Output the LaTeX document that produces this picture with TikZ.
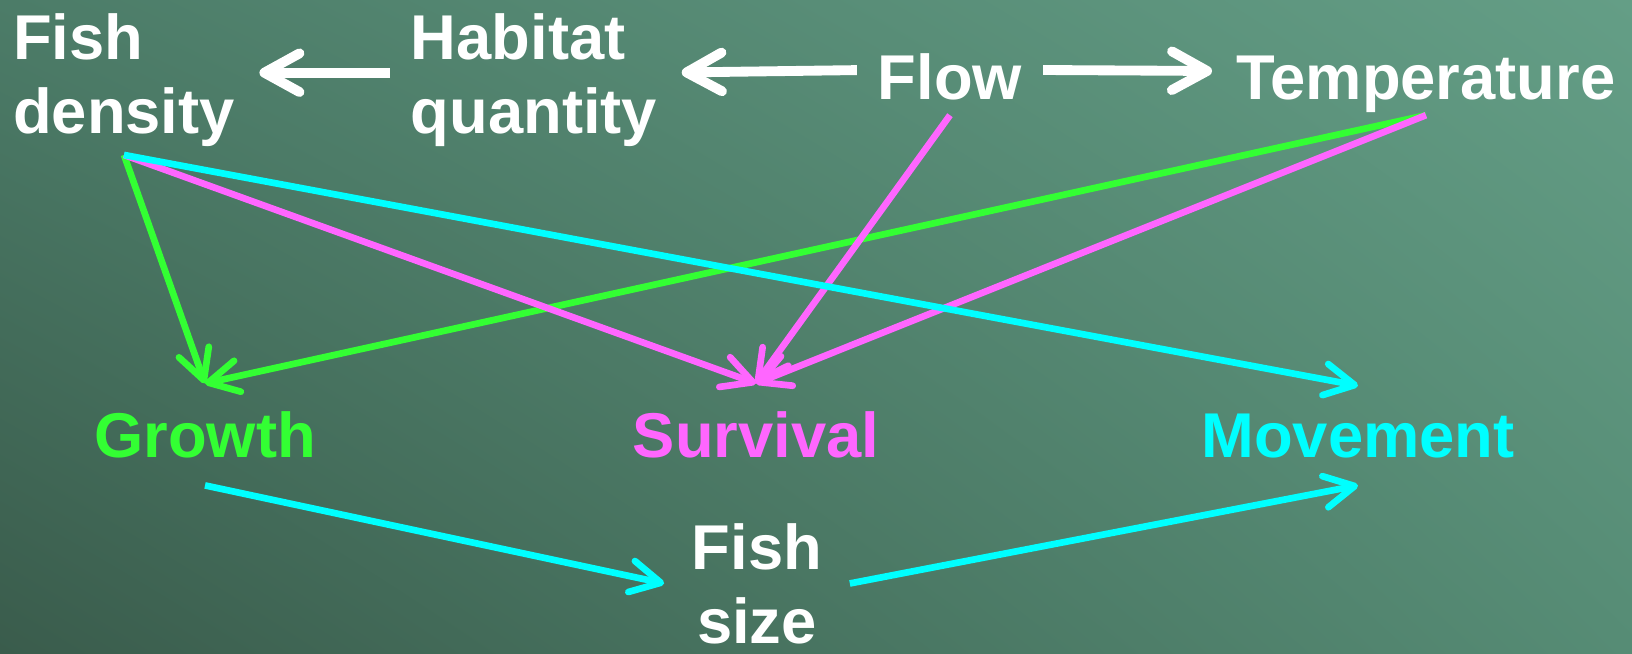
\documentclass[tikz,border=0pt]{standalone}
\usepackage{fontspec}
\setmainfont{Liberation Sans}
\usetikzlibrary{arrows.meta,shadings}
\definecolor{bgul}{RGB}{76,124,104}
\definecolor{bgur}{RGB}{100,158,134}
\definecolor{bgll}{RGB}{58,92,76}
\definecolor{bglr}{RGB}{86,140,117}
\definecolor{grn}{RGB}{51,255,51}
\definecolor{mag}{RGB}{255,102,255}
\definecolor{cyn}{RGB}{0,255,255}
\begin{document}
\begin{tikzpicture}[x={0.01cm},y={-0.01cm},
  lbl/.style={font=\fontsize{18}{21}\selectfont\bfseries,text=white,inner sep=2.3pt,anchor=base,align=left},
  toplbl/.style={lbl,text depth=0.21em},
  outlbl/.style={lbl,inner sep=7.7pt},
  wh/.style={white,line width=2.8pt,-{Straight Barb[length=10pt,width=11pt,round]},shorten <=3.5pt,shorten >=4.5pt},
  cl/.style={line width=1.9pt,-{Straight Barb[length=8.5pt,width=9pt,round]}}]
\shade[lower left=bgll,lower right=bglr,upper left=bgul,upper right=bgur](0,653)rectangle(1632,0);
\useasboundingbox(0,0)rectangle(1632,653);
\node[lbl](dens)at(124,133){Fish\\density};
\node[lbl](hab)at(534,133){Habitat\\quantity};
\node[toplbl](flow)at(950,99){Flow};
\node[toplbl](temp)at(1426,99){Temperature};
\node[outlbl,text=grn](grow)at(205,457){Growth};
\node[outlbl,text=mag](surv)at(756,457){Survival};
\node[outlbl,text=cyn](move)at(1358,457){Movement};
\node[outlbl,align=center](size)at(757,643){Fish\\size};
\draw[wh]([yshift=2pt]hab.west)--([yshift=2pt]dens.east);
\draw[wh]([yshift=2.8pt]flow.west)--([yshift=2pt]hab.east);
\draw[wh]([yshift=2.8pt]flow.east)--([yshift=2.8pt]temp.west);
\foreach \a/\b/\c in {dens/grow/grn,temp/grow/grn,dens/surv/mag,temp/surv/mag,flow/surv/mag,dens/move/cyn}{\draw[cl,\c](\a.south)--(\b.north);}
\draw[cl,cyn](grow.south)--(size.west);
\draw[cl,cyn](size.east)--(move.south);
\end{tikzpicture}
\end{document}
